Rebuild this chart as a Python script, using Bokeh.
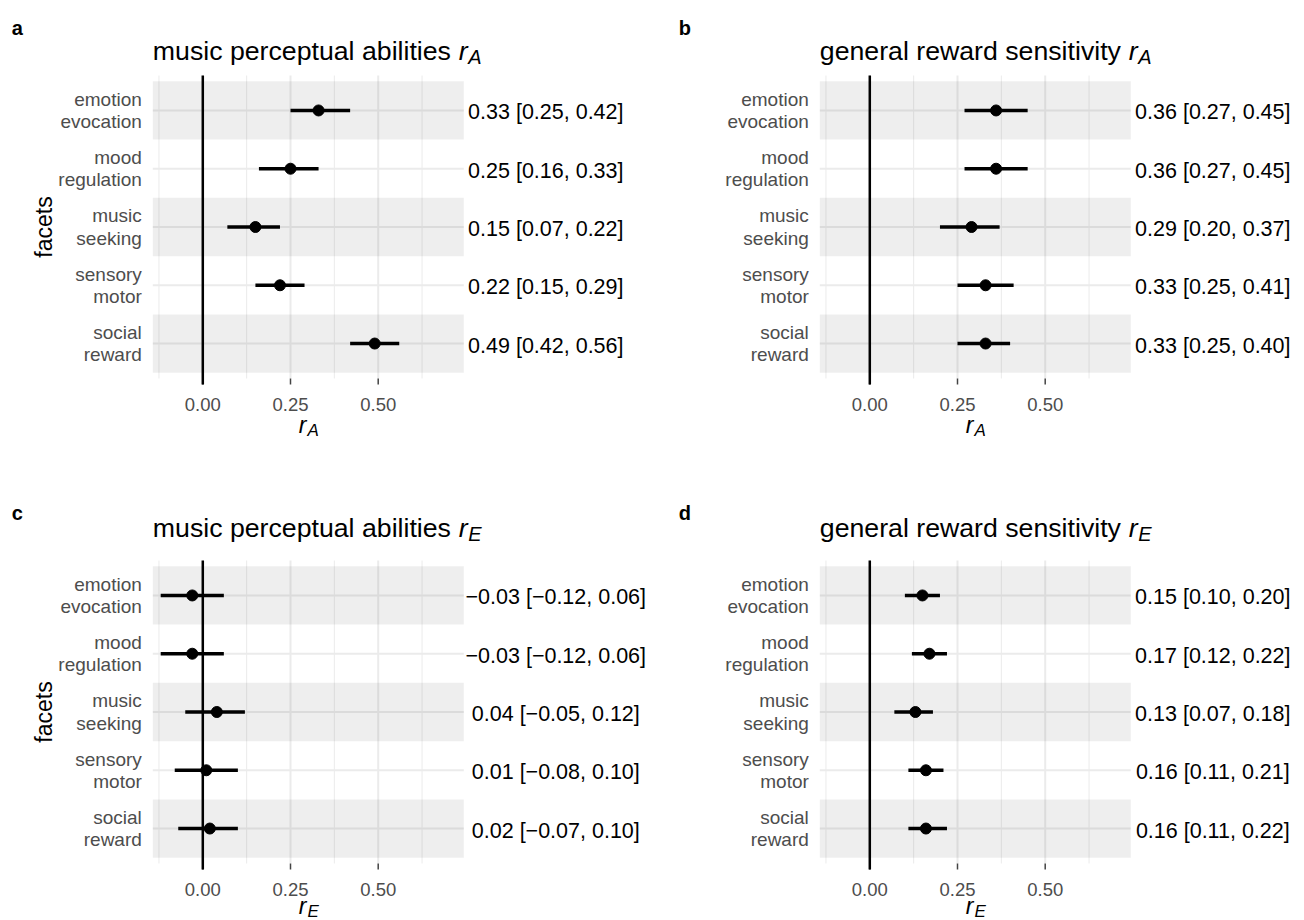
import math
from bokeh.plotting import figure
from bokeh.models import Range1d, ColumnDataSource
from bokeh.layouts import gridplot
from bokeh.embed import file_html
from bokeh.resources import INLINE
from bokeh.core.properties import value

# ---------------- data ----------------
categories = ["emotion evocation", "mood regulation", "music seeking", "sensory motor", "social reward"]
category_labels = ["emotion\nevocation", "mood\nregulation", "music\nseeking", "sensory\nmotor", "social\nreward"]

# panel a: music perceptual abilities, r_A
a_est = [0.33, 0.25, 0.15, 0.22, 0.49]
a_lo = [0.25, 0.16, 0.07, 0.15, 0.42]
a_hi = [0.42, 0.33, 0.22, 0.29, 0.56]
# panel b: general reward sensitivity, r_A
b_est = [0.36, 0.36, 0.29, 0.33, 0.33]
b_lo = [0.27, 0.27, 0.20, 0.25, 0.25]
b_hi = [0.45, 0.45, 0.37, 0.41, 0.40]
# panel c: music perceptual abilities, r_E
c_est = [-0.03, -0.03, 0.04, 0.01, 0.02]
c_lo = [-0.12, -0.12, -0.05, -0.08, -0.07]
c_hi = [0.06, 0.06, 0.12, 0.10, 0.10]
# panel d: general reward sensitivity, r_E
d_est = [0.15, 0.17, 0.13, 0.16, 0.16]
d_lo = [0.10, 0.12, 0.07, 0.11, 0.11]
d_hi = [0.20, 0.22, 0.18, 0.21, 0.22]

x_ticks = [0.0, 0.25, 0.5]
x_tick_labels = ["0.00", "0.25", "0.50"]
x_minor = [-0.125, 0.125, 0.375, 0.625]

# ---------------- style / geometry ----------------
FONT = "Liberation Sans"
X0, X1 = -0.1425, 0.744          # panel x limits
Y0, Y1 = 0.4, 5.6                # panel y limits (discrete axis with 0.6 expansion)
K = 350.8                        # px per x unit
KY = 303.0 / (Y1 - Y0)           # px per y unit
GRID = "#ebebeb"


def dx(px):
    return px / K


def dy(px):
    return px / KY


def fmt(v):
    return f"{v:.2f}".replace("-", "\u2212")


def txt(p, x, y, text, size, color="black", style="normal", align="left",
        baseline="alphabetic", angle=0.0, line_height=1.2):
    p.text(x=x, y=y, text=text, text_font=value(FONT), text_font_size=value(size),
           text_font_style=value(style), text_color=color, text_align=align,
           text_baseline=baseline, angle=angle, text_line_height=line_height)


def panel(letter, title, sub, est, lo, hi, W, H, origin, zero_x, top,
          title_gap, title_rx, ylabel, xlab_gap, lab_dx):
    ox, oy = origin
    xs = (ox - zero_x) / K
    ye = Y1 + (top - oy) / KY
    p = figure(width=W, height=H, output_backend="svg", toolbar_location=None,
               x_range=Range1d(xs, xs + W / K), y_range=Range1d(ye - H / KY, ye),
               x_axis_location=None, y_axis_location=None, min_border=0)
    p.outline_line_color = None
    p.background_fill_color = "white"
    p.border_fill_color = "white"
    for g in p.grid:
        g.visible = False

    n = len(categories)
    ypos = [n - i for i in range(n)]

    # grid lines
    p.segment(x0=x_minor, x1=x_minor, y0=Y0, y1=Y1, line_color=GRID, line_width=1)
    p.segment(x0=x_ticks, x1=x_ticks, y0=Y0, y1=Y1, line_color=GRID, line_width=2)
    p.segment(x0=X0, x1=X1, y0=ypos, y1=ypos, line_color=GRID, line_width=2)

    # alternating bands
    p.hbar(y=ypos[0::2], height=1, left=X0, right=X1, fill_color="black",
           fill_alpha=0.065, line_color=None)

    # axis ticks + zero line
    p.segment(x0=x_ticks, x1=x_ticks, y0=Y0, y1=Y0 - dy(6), line_color="#444444",
              line_width=1.5)
    p.segment(x0=[0], x1=[0], y0=[Y0 - dy(6)], y1=[Y1], line_color="black", line_width=2.5)

    src = ColumnDataSource(dict(y=ypos, est=est, lo=lo, hi=hi))
    p.segment(x0="lo", x1="hi", y0="y", y1="y", source=src, line_color="black",
              line_width=3.5)
    p.scatter(x="est", y="y", source=src, size=11, fill_color="black", line_color="black")

    # estimate labels
    labels = [f"{fmt(e)} [{fmt(l)}, {fmt(h)}]" for e, l, h in zip(est, lo, hi)]
    txt(p, [X1 + dx(lab_dx)] * n, [v - dy(2) for v in ypos], labels, "21.5px",
        align="center", baseline="middle")

    # x tick labels
    txt(p, x_ticks, [Y0 - dy(25.5)] * len(x_ticks), x_tick_labels, "18.5px",
        color="#4d4d4d", align="center")
    # x axis title r_sub
    txt(p, [dx(96)], [Y0 - dy(xlab_gap)], ["r"], "23px", style="italic")
    txt(p, [dx(104.7)], [Y0 - dy(xlab_gap + 5.8)], [sub], "17px", style="italic")

    # category labels
    txt(p, [X0 - dx(11)] * n, ypos, category_labels, "19px", color="#4d4d4d",
        align="right", baseline="middle", line_height=1.05)

    if ylabel:
        txt(p, [-dx(159.3)], [(Y0 + Y1) / 2], [ylabel], "23px", align="center",
            angle=math.pi / 2)

    # title
    ty = Y1 + dy(title_gap)
    txt(p, [X0], [ty], [title], "26.7px")
    txt(p, [X0 + dx(title_rx)], [ty], ["r"], "26.7px", style="italic")
    txt(p, [X0 + dx(title_rx + 9.5)], [ty - dy(6)], [sub], "20px", style="italic")

    # panel letter
    txt(p, [-dx(191)], [Y1 + dy(47.5)], [letter], "20px", style="bold")
    return p


pa = panel("a", "music perceptual abilities ", "A", a_est, a_lo, a_hi,
           652, 465, (0, 0), 202.3, 75, 24.3, 306, "facets", 46.5, 82)
pb = panel("b", "general reward sensitivity ", "A", b_est, b_lo, b_hi,
           650, 465, (652, 0), 869.3, 75, 24.3, 309, None, 46.5, 82)
pc = panel("c", "music perceptual abilities ", "E", c_est, c_lo, c_hi,
           652, 455, (0, 465), 202.3, 560, 33, 306, "facets", 42.5, 92)
pd = panel("d", "general reward sensitivity ", "E", d_est, d_lo, d_hi,
           650, 455, (652, 465), 869.3, 560, 33, 309, None, 42.5, 82)

grid = gridplot([[pa, pb], [pc, pd]], toolbar_location=None)
open("out.html", "w").write(file_html(grid, INLINE))
